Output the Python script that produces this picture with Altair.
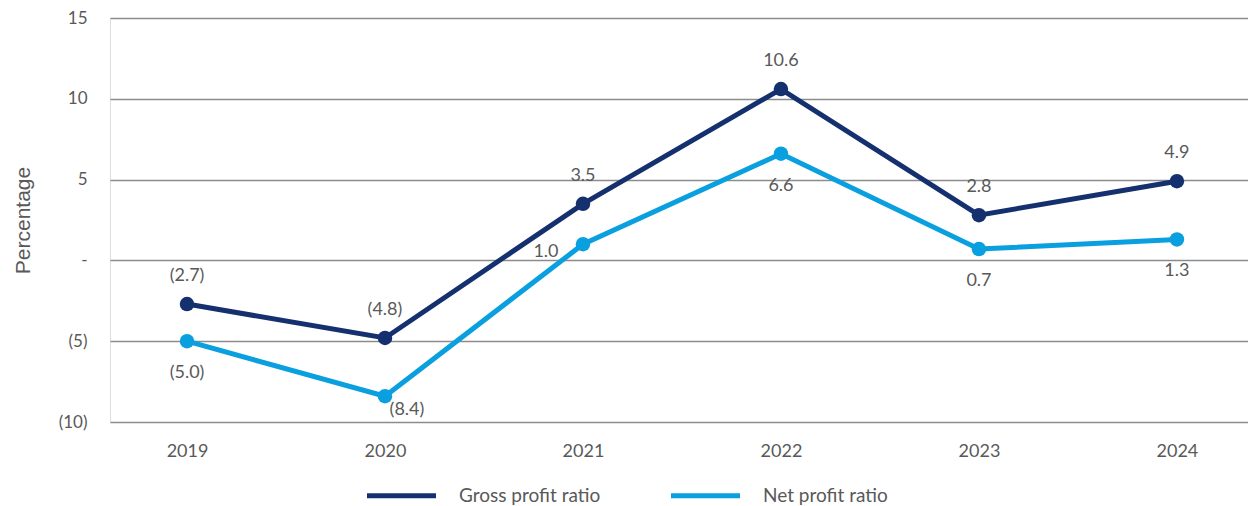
import altair as alt
import pandas as pd

years = [2019, 2020, 2021, 2022, 2023, 2024]
gross = [-2.7, -4.8, 3.5, 10.6, 2.8, 4.9]
net = [-5.0, -8.4, 1.0, 6.6, 0.7, 1.3]
series_names = ["Gross profit ratio", "Net profit ratio"]
colors = ["#14306E", "#0AA0E0"]
y_ticks = [-10, -5, 0, 5, 10, 15]

rows = []
for y, g, n in zip(years, gross, net):
    rows.append({"year": y, "series": series_names[0], "v": g})
    rows.append({"year": y, "series": series_names[1], "v": n})
df = pd.DataFrame(rows)

FONT = "Lato"
TXT = "#595959"

x = alt.X("year:Q",
          scale=alt.Scale(domain=[2018.611, 2024.359], nice=False, zero=False),
          axis=alt.Axis(values=years, format="d", title=None, grid=False,
                        domain=False, domainOpacity=0, ticks=False, labelPadding=20,
                        labelFontSize=18, labelColor=TXT, labelFont=FONT))
y = alt.Y("v:Q",
          scale=alt.Scale(domain=[-10, 15], nice=False, zero=False),
          axis=alt.Axis(values=y_ticks, title="Percentage", grid=True,
                        gridColor="#8c8c8c", gridWidth=1.5,
                        domain=False, domainOpacity=0, ticks=False, labelPadding=23,
                        labelFontSize=17, labelColor=TXT, labelFont=FONT,
                        labelExpr="datum.value == 0 ? '-' : (datum.value < 0 ? '(' + format(-datum.value, 'd') + ')' : format(datum.value, 'd'))",
                        titleFont="Liberation Sans", titleFontSize=21,
                        titleFontWeight="normal", titleColor=TXT, titlePadding=25))

color = alt.Color("series:N",
                  scale=alt.Scale(domain=series_names, range=colors),
                  legend=alt.Legend(orient="none", legendX=274, legendY=460,
                                    direction="horizontal", title=None,
                                    symbolType="M-2.3,0H2.3", symbolSize=900,
                                    symbolStrokeWidth=5, labelOffset=40,
                                    columnPadding=60,
                                    labelFontSize=19, labelColor=TXT,
                                    labelFont=FONT))

base = alt.Chart(df).encode(x=x, y=y)

lines = base.mark_line(
    strokeWidth=5,
    point=alt.OverlayMarkDef(filled=True, size=210, opacity=1),
).encode(color=color)

lab = base.transform_calculate(
    lbl="datum.v < 0 ? '(' + format(-datum.v, '.1f') + ')' : format(datum.v, '.1f')"
)
tstyle = dict(fontSize=18, color=TXT, font=FONT)

gross_lbl = lab.transform_filter(alt.datum.series == series_names[0]).mark_text(
    dy=-28, **tstyle).encode(text="lbl:N")
net_below = lab.transform_filter(
    (alt.datum.series == series_names[1]) & (alt.datum.year != 2020) & (alt.datum.year != 2021)
).mark_text(dy=32, **tstyle).encode(text="lbl:N")
net_2020 = lab.transform_filter(
    (alt.datum.series == series_names[1]) & (alt.datum.year == 2020)
).mark_text(dx=22, dy=14, **tstyle).encode(text="lbl:N")
net_2021 = lab.transform_filter(
    (alt.datum.series == series_names[1]) & (alt.datum.year == 2021)
).mark_text(dx=-37, dy=8, **tstyle).encode(text="lbl:N")

chart = alt.layer(lines, gross_lbl, net_below, net_2020, net_2021).properties(
    width=1138, height=404,
    padding={"left": 4, "top": 1, "right": 0, "bottom": 0},
).configure_view(
    strokeWidth=0, stroke="transparent"
).configure_axis(
    domain=False, ticks=False, domainOpacity=0, tickOpacity=0
).configure_axisY(
    domain=False, domainOpacity=0
).configure_axisLeft(
    domain=False, domainOpacity=0
).configure(background="white")

chart.save("out.html", embed_options={"renderer": "svg", "actions": False})
